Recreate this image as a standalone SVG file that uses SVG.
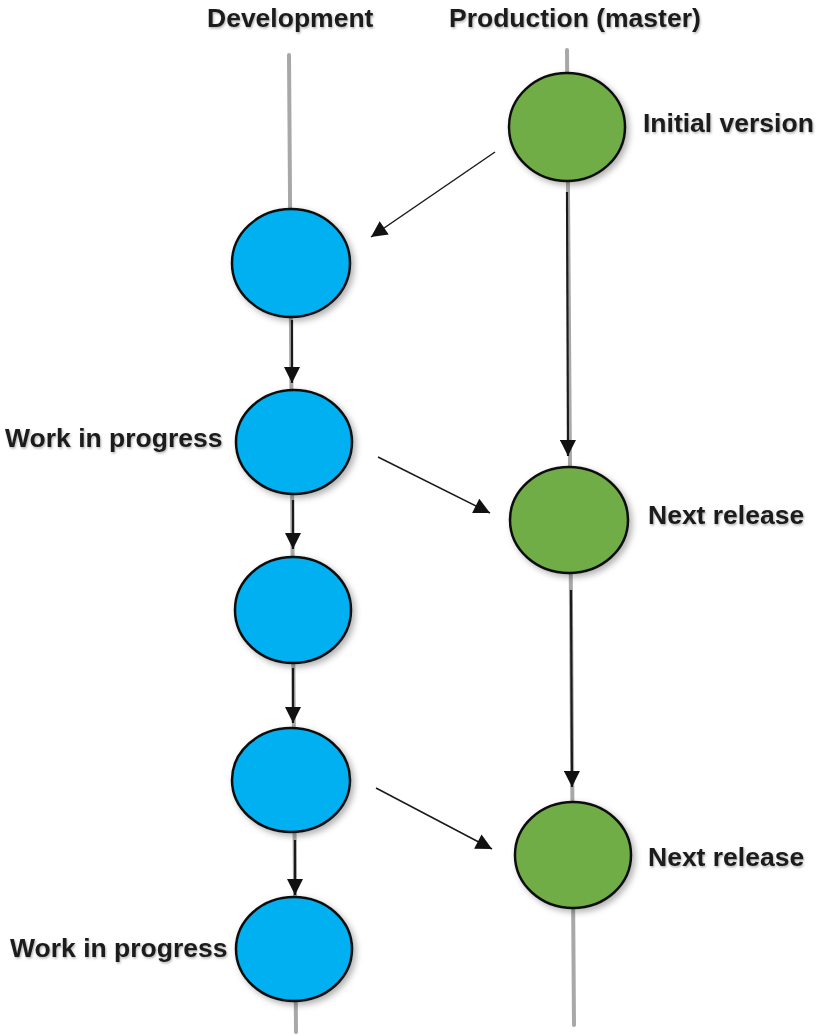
<svg xmlns="http://www.w3.org/2000/svg" width="817" height="1036" viewBox="0 0 817 1036">
<style>
.lane{stroke:#a8a8a8;stroke-width:4;fill:none;stroke-linecap:round}
.dev{fill:#00b0f0;stroke:#111;stroke-width:2.5}
.prod{fill:#70ad47;stroke:#111;stroke-width:2.5}
.lbl{font-family:"Liberation Sans",Arial,sans-serif;font-weight:bold;font-size:26.5px;fill:#1a1a1a}
.vc{stroke:#1a1a1a;stroke-width:2.2;fill:none}
.dc{stroke:#1a1a1a;stroke-width:1.5;fill:none}
</style>
<defs>
<filter id="sh" x="-30%" y="-30%" width="160%" height="160%">
<feDropShadow dx="3" dy="3" stdDeviation="3" flood-color="#000" flood-opacity="0.3"/>
</filter>
<filter id="ts" x="-5%" y="-20%" width="110%" height="140%">
<feDropShadow dx="1" dy="1.5" stdDeviation="1.2" flood-color="#000" flood-opacity="0.3"/>
</filter>
<marker id="ah" viewBox="0 0 10 10" refX="10" refY="5" markerUnits="userSpaceOnUse" markerWidth="17" markerHeight="16" orient="auto">
<path d="M0,0 L10,5 L0,10 z" fill="#111"/>
</marker>
</defs>
<g id="lanes">
<line class="lane" x1="289" y1="55" x2="296" y2="1032"/>
<line class="lane" x1="567" y1="50" x2="574" y2="1025"/>
</g>
<g id="connectors">
<line class="dc" x1="495" y1="152" x2="371" y2="237" marker-end="url(#ah)"/>
<line class="vc" x1="567" y1="192" x2="568" y2="456" marker-end="url(#ah)"/>
<line class="vc" x1="292" y1="320" x2="292" y2="383" marker-end="url(#ah)"/>
<line class="dc" x1="378" y1="457" x2="490" y2="513" marker-end="url(#ah)"/>
<line class="vc" x1="293" y1="500" x2="293" y2="549" marker-end="url(#ah)"/>
<line class="vc" x1="293" y1="668" x2="293" y2="723" marker-end="url(#ah)"/>
<line class="vc" x1="571" y1="590" x2="572" y2="787" marker-end="url(#ah)"/>
<line class="dc" x1="376" y1="788" x2="492" y2="849" marker-end="url(#ah)"/>
<line class="vc" x1="295" y1="840" x2="295" y2="895" marker-end="url(#ah)"/>
</g>
<g id="n_initial"><ellipse class="prod" filter="url(#sh)" cx="567" cy="127" rx="58" ry="54"/></g>
<g id="n_release1"><ellipse class="prod" filter="url(#sh)" cx="569" cy="520" rx="59" ry="53"/></g>
<g id="n_release2"><ellipse class="prod" filter="url(#sh)" cx="573" cy="855" rx="58" ry="53"/></g>
<g id="n_dev1"><ellipse class="dev" filter="url(#sh)" cx="291" cy="263" rx="59" ry="54"/></g>
<g id="n_dev2"><ellipse class="dev" filter="url(#sh)" cx="294" cy="442" rx="58" ry="52"/></g>
<g id="n_dev3"><ellipse class="dev" filter="url(#sh)" cx="293" cy="610" rx="58" ry="53"/></g>
<g id="n_dev4"><ellipse class="dev" filter="url(#sh)" cx="291" cy="780" rx="59" ry="52"/></g>
<g id="n_dev5"><ellipse class="dev" filter="url(#sh)" cx="294" cy="949" rx="58" ry="52"/></g>
<g id="labels" filter="url(#ts)">
<text class="lbl" x="207" y="27">Development</text>
<text class="lbl" x="449" y="27">Production (master)</text>
<text class="lbl" x="643" y="132">Initial version</text>
<text class="lbl" x="5" y="447">Work in progress</text>
<text class="lbl" x="648" y="524">Next release</text>
<text class="lbl" x="648" y="866">Next release</text>
<text class="lbl" x="10" y="957">Work in progress</text>
</g>
</svg>
